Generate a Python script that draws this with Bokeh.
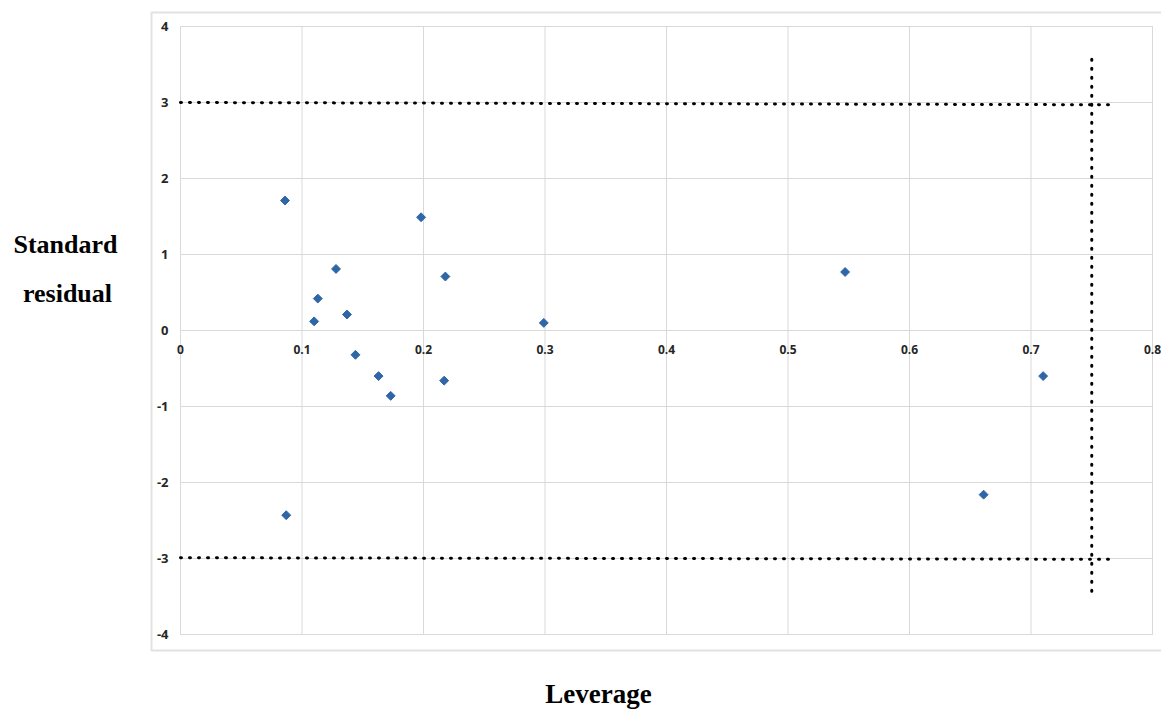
import math
from bokeh.plotting import figure
from bokeh.models import Range1d, Label, ColumnDataSource
from bokeh.core.properties import value
from bokeh.embed import file_html
from bokeh.resources import INLINE

# ---- data ----
leverage = [0.086, 0.087, 0.110, 0.113, 0.128, 0.137, 0.144, 0.163, 0.173,
            0.198, 0.218, 0.217, 0.299, 0.547, 0.710, 0.661]
std_residual = [1.71, -2.43, 0.12, 0.42, 0.81, 0.21, -0.32, -0.60, -0.86,
                1.49, 0.71, -0.66, 0.10, 0.77, -0.60, -2.16]
x_ticks = [0, 0.1, 0.2, 0.3, 0.4, 0.5, 0.6, 0.7, 0.8]
x_tick_labels = ["0", "0.1", "0.2", "0.3", "0.4", "0.5", "0.6", "0.7", "0.8"]
y_ticks = [-4, -3, -2, -1, 0, 1, 2, 3, 4]
y_tick_labels = ["-4", "-3", "-2", "-1", "0", "1", "2", "3", "4"]
# warning limits (dotted lines)
upper_limit_x = [0.0, 0.77]
upper_limit_y = [3.0, 2.97]
lower_limit_x = [0.0, 0.767]
lower_limit_y = [-2.99, -3.01]
h_star_x = [0.75, 0.75]
h_star_y = [3.57, -3.46]

X_MIN, X_MAX = 0.0, 0.8
Y_MIN, Y_MAX = -4.0, 4.0

# ---- layout geometry (pixels) ----
W, H = 1161, 710
PX_LEFT, PX_RIGHT = 180, 1152     # plot area left/right
PX_TOP, PX_BOTTOM = 26, 634       # plot area top/bottom
sx = (PX_RIGHT - PX_LEFT) / (X_MAX - X_MIN)
sy = (PX_BOTTOM - PX_TOP) / (Y_MAX - Y_MIN)
def dx(px):
    return X_MIN + (px - PX_LEFT) / sx
def dy(py):
    return Y_MAX - (py - PX_TOP) / sy

p = figure(width=W, height=H, output_backend="svg", toolbar_location=None,
           x_range=Range1d(dx(0), dx(W)), y_range=Range1d(dy(H), dy(0)),
           x_axis_location=None, y_axis_location=None,
           min_border=0, min_border_left=0, min_border_right=0,
           min_border_top=0, min_border_bottom=0)
p.background_fill_color = "white"
p.border_fill_color = "white"
p.outline_line_color = None
p.xgrid.visible = False
p.ygrid.visible = False

# outer chart border
p.quad(left=[dx(151)], right=[dx(1168)], top=[dy(12)], bottom=[dy(650)],
       fill_color=None, line_color="#e2e2e2", line_width=2)

grid_col = "#d9d9d9"
# grid lines
p.segment(x0=x_ticks, y0=[Y_MIN] * len(x_ticks), x1=x_ticks, y1=[Y_MAX] * len(x_ticks),
          line_color=grid_col, line_width=1)
p.segment(x0=[X_MIN] * len(y_ticks), y0=y_ticks, x1=[X_MAX] * len(y_ticks), y1=y_ticks,
          line_color=grid_col, line_width=1)
# plot area border
p.quad(left=[X_MIN], right=[X_MAX], top=[Y_MAX], bottom=[Y_MIN],
       fill_color=None, line_color=grid_col, line_width=1)

# tick labels
tick_style = dict(text_font=value("Open Sans"), text_font_style="bold",
                  text_color="#262626", text_baseline="middle")
p.text(x=x_ticks, y=[0] * len(x_ticks), text=x_tick_labels, y_offset=19,
       text_align="center", text_font_size="12px", **tick_style)
p.text(x=[X_MIN] * len(y_ticks), y=y_ticks, text=y_tick_labels, x_offset=-12,
       text_align="right", text_font_size="13px", **tick_style)

# dotted limit lines
dot = dict(line_color="black", line_width=3, line_dash="1 8", line_cap="round")
p.line(upper_limit_x, upper_limit_y, **dot)
p.line(lower_limit_x, lower_limit_y, **dot)
p.line(h_star_x, h_star_y, **dot)

# data points
src = ColumnDataSource(dict(x=leverage, y=std_residual))
p.scatter("x", "y", source=src, marker="square", size=6.3, angle=math.pi / 4,
          fill_color="#2e66a8", line_color="#2e66a8")

# axis titles
title_style = dict(text_font="Liberation Serif", text_font_style="bold",
                   text_color="black", text_align="center",
                   text_baseline="alphabetic")
p.add_layout(Label(x=dx(65), y=dy(244), text="Standard",
                   text_font_size="26px", **title_style))
p.add_layout(Label(x=dx(67), y=dy(293), text="residual",
                   text_font_size="26px", **title_style))
p.add_layout(Label(x=dx(598), y=dy(693), text="Leverage",
                   text_font_size="27px", **title_style))

open("out.html", "w").write(file_html(p, INLINE))
